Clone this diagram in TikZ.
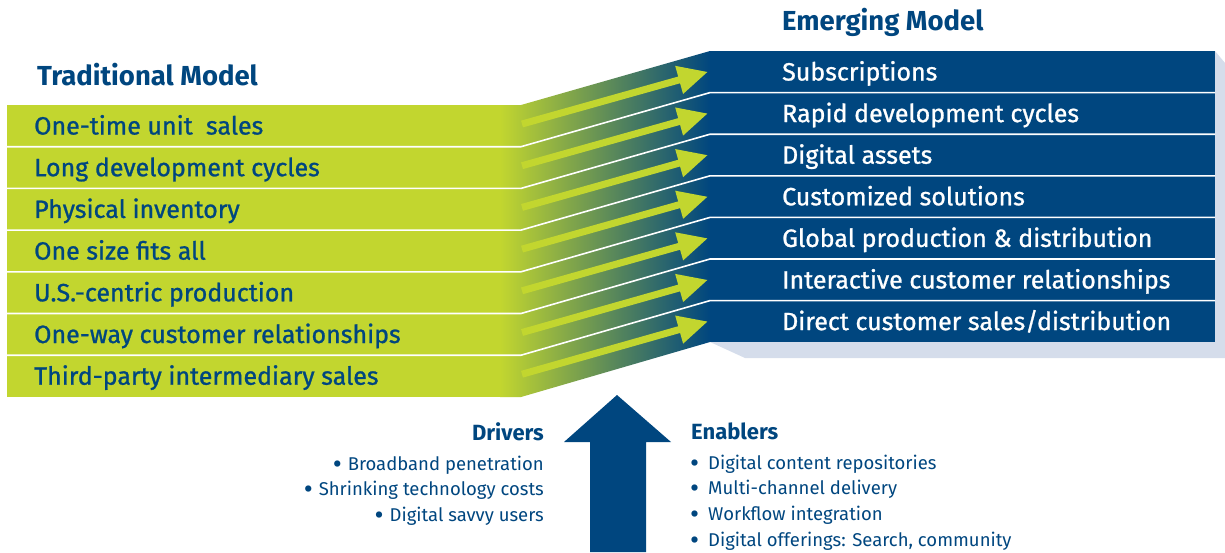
\documentclass[tikz,border=0pt]{standalone}
\usepackage{fontspec}
\setmainfont{Fira Sans}
\newfontfamily\medfont{Fira Sans}[FakeBold=1]
\usepackage{xcolor}
\usetikzlibrary{arrows.meta}

\definecolor{lime}{RGB}{194,214,47}
\definecolor{navy}{RGB}{0,70,127}
\definecolor{shadowblue}{RGB}{213,221,235}

\newcommand{\dotmark}{\raisebox{-3pt}{\scalebox{1.5}{•}}}

\tikzset{
  rowtext/.style={anchor=base west, inner sep=0pt, font=\fontsize{25}{29}\selectfont\medfont},
  head/.style={anchor=base west, inner sep=0pt, text=navy, font=\fontsize{27.5}{32}\selectfont\bfseries},
  subhead/.style={inner sep=0pt, text=navy, font=\fontsize{22}{26}\selectfont\bfseries},
  listtext/.style={inner sep=0pt, text=navy, font=\fontsize{18.5}{22}\selectfont},
  sepline/.style={white, line width=1.6pt},
  shiftarrow/.style={lime, line width=7pt, -{Triangle[length=30pt,width=27pt]}}
}

\begin{document}
\begin{tikzpicture}[x=1pt,y=-1pt]
    \useasboundingbox (0,0) rectangle (1225,552);

    % Emerging model shadow and box
    \fill[shadowblue] (710,342) -- (745,358) -- (1225,358) -- (1225,63) -- (1215,51) -- (1215,342) -- cycle;
    \fill[navy] (710,51) rectangle (1215,342);

    % Traditional model box
    \fill[lime] (7,105) rectangle (521,397);

    % Transition band
    \shade[left color=lime, right color=navy] (500,105) -- (521,105) -- (710,51) -- (710,342) -- (521,397) -- (500,397) -- cycle;

    % Row separators
    \foreach \k in {1,...,6}
        \draw[sepline] (7,{105+41.7*\k}) -- (521,{105+41.7*\k}) -- (710,{51+41.6*\k}) -- (1215,{51+41.6*\k});

    % Shift arrows
    \foreach \k in {0,...,6}
        \draw[shiftarrow] (522,{124+41.7*\k}) -- (708,{71.8+41.6*\k});

    % Headings
    \node[head] (tradhead) at (37,85) {Traditional Model};
    \node[head] (emerhead) at (782,30) {Emerging Model};

    % Traditional rows
    \foreach \t [count=\i from 0] in {One-time unit\ \ sales, Long development cycles, Physical inventory,
        One size fits all, U.S.-centric production, One-way customer relationships, Third-party intermediary sales}
        \node[rowtext, text=navy] (trad\i) at (34,{134.5+41.7*\i}) {\t};

    % Emerging rows
    \foreach \t [count=\i from 0] in {Subscriptions, Rapid development cycles, Digital assets,
        Customized solutions, Global production \& distribution, Interactive customer relationships,
        Direct customer sales/distribution}
        \node[rowtext, text=white] (emer\i) at (782,{80.5+41.6*\i}) {\t};

    % Upward arrow
    \fill[navy] (590,552) -- (590,442) -- (564,442) -- (617,395) -- (671,442) -- (646,442) -- (646,552) -- cycle;

    % Drivers
    \node[subhead, anchor=base east] (drivers) at (544,440) {Drivers};
    \foreach \t [count=\i from 0] in {Broadband penetration, Shrinking technology costs, Digital savvy users}
        \node[listtext, anchor=base east] (drv\i) at (544,{470+25.8*\i}) {\makebox[15pt][l]{\dotmark}\t};

    % Enablers
    \node[subhead, anchor=base west] (enablers) at (691,439) {Enablers};
    \foreach \t [count=\i from 0] in {Digital content repositories, Multi-channel delivery,
        Workflow integration, {Digital offerings: Search, community}}
        \node[listtext, anchor=base west] (enb\i) at (690,{469+25.8*\i}) {\makebox[18pt][l]{\dotmark}\t};
\end{tikzpicture}
\end{document}
